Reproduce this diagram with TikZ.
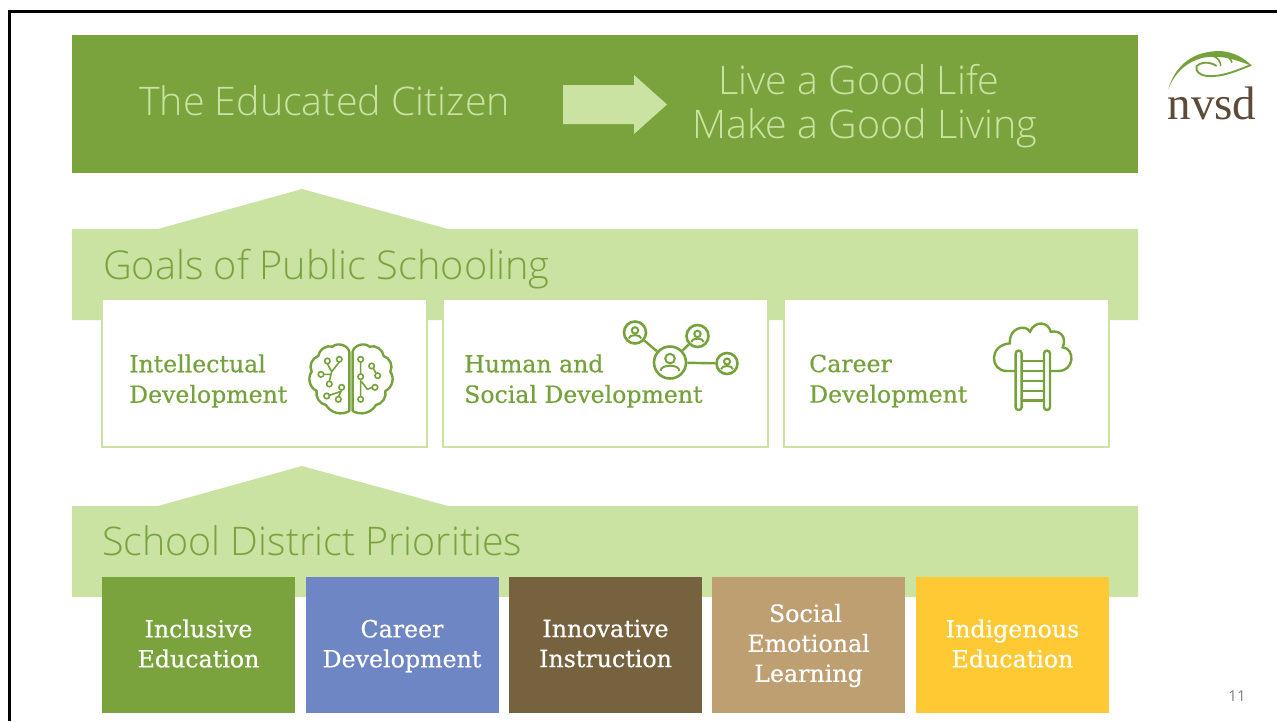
\documentclass[tikz,border=0pt]{standalone}
\usepackage{fontspec}
\setmainfont{Open Sans}
\newfontfamily\lightf{Open Sans Light}
\newfontfamily\slabf[RawFeature={embolden=0.5}]{DejaVu Serif}
\newfontfamily\logof{Liberation Serif}
\definecolor{dgreen}{HTML}{7AA33E}
\definecolor{lgreen}{HTML}{CAE3A2}
\definecolor{cblue}{HTML}{6E86C4}
\definecolor{cbrown}{HTML}{77623F}
\definecolor{ctan}{HTML}{BE9F72}
\definecolor{cyellow}{HTML}{FFC933}
\definecolor{logobrown}{HTML}{5E4A38}
\definecolor{icongreen}{HTML}{76A23C}
\tikzset{
  bigtxt/.style={font=\lightf\fontsize{39.4}{45}\selectfont,text=lgreen,align=center,inner sep=0pt},
  headtxt/.style={font=\lightf\fontsize{39.4}{45}\selectfont,text=dgreen,anchor=west,inner sep=0pt},
  whitebox/.style={draw=lgreen,line width=2pt,fill=white,minimum width=325pt,minimum height=148pt,inner sep=0pt},
  boxtxt/.style={font=\slabf\fontsize{23.6}{30.5}\selectfont,text=icongreen,align=left,anchor=west,inner sep=0pt},
  colbox/.style={minimum width=193pt,minimum height=136pt,inner sep=0pt,text=white,align=center},
  coltxt/.style={font=\slabf\fontsize{23.7}{30}\selectfont,text=white,align=center,inner sep=0pt},
  icon/.style={draw=icongreen,line width=2.4pt},
  pnode/.style={circle,draw=icongreen,line width=2.6pt,inner sep=0pt,fill=white},
  cnode/.style={circle,draw=icongreen,line width=1.6pt,inner sep=0pt,minimum size=5.5pt,fill=white},
  band/.style={fill=lgreen,draw=none}
}
\newcommand{\personicon}[3]{%
  \draw[icon,line width=2pt] (#1,#2-#3*0.26) circle[radius=#3*0.32];
  \draw[icon,line width=2pt] (#1-#3*0.62,#2+#3*0.55) .. controls (#1-#3*0.62,#2+#3*0.1) and (#1+#3*0.62,#2+#3*0.1) .. (#1+#3*0.62,#2+#3*0.55);
}
\begin{document}
\begin{tikzpicture}[x=1pt,y=-1pt]
\useasboundingbox (0,0) rectangle (1277,721);
\fill[white] (0,0) rectangle (1277,721);
% frame
\draw[black,line width=3pt] (9.5,721) -- (9.5,11) -- (1277,11);
% top band
\node[fill=dgreen,minimum width=1066pt,minimum height=138pt,inner sep=0pt,anchor=north west] (top) at (72,35) {};
\node[bigtxt] (citizen) at (324.5,101) {The Educated Citizen};
\fill[lgreen] (563,85) -- (634,85) -- (634,75) -- (667,104.5) -- (634,134) -- (634,124) -- (563,124) -- cycle;
\node[bigtxt,align=center] (live) at (865,106) {Live a Good Life\kern12pt\mbox{}\\[-0.5pt]Make a Good Living};
% goals band
\fill[band] (72,229) -- (158,229) -- (302,189) -- (448,229) -- (1138,229) -- (1138,320) -- (72,320) -- cycle;
\node[headtxt,font=\lightf\fontsize{39.7}{45}\selectfont] (goals) at (103,269) {Goals of Public Schooling};
\node[whitebox] (b1) at (264.5,373) {};
\node[whitebox] (b2) at (605.5,373) {};
\node[whitebox] (b3) at (946.5,373) {};
\node[boxtxt] (t1) at (129,381) {Intellectual\\Development};
\node[boxtxt] (t2) at (464,381) {Human and\\Social Development};
\node[boxtxt] (t3) at (809,381) {Career\\Development};
% priorities band
\fill[band] (72,506) -- (158,506) -- (302,466) -- (448,506) -- (1138,506) -- (1138,597) -- (72,597) -- cycle;
\node[headtxt] (prio) at (102,540.5) {School District Priorities};
\node[colbox,fill=dgreen] (c1) at (198.5,645) {};
\node[colbox,fill=cblue] (c2) at (402.5,645) {};
\node[colbox,fill=cbrown] (c3) at (605.5,645) {};
\node[colbox,fill=ctan] (c4) at (808.5,645) {};
\node[colbox,fill=cyellow] (c5) at (1012.5,645) {};
\node[coltxt] (c1t) at (198.5,643.5) {Inclusive\\Education};
\node[coltxt] (c2t) at (402,646) {Career\\Development};
\node[coltxt] (c3t) at (605.5,643.5) {Innovative\\Instruction};
\node[coltxt] (c4t) at (808.5,645.5) {Social\kern6pt\mbox{}\\Emotional\\Learning};
\node[coltxt] (c5t) at (1012.5,643.5) {Indigenous\\Education};
\node[text=gray,font=\fontsize{15}{18}\selectfont,inner sep=0pt] (pg) at (1237,696) {11};
% brain icon
\begin{scope}[shift={(290,310)},x=0.3333pt,y=-0.3333pt]
  \draw[icon,line join=round] (178,125) to[bend right=60] (128,110) to[bend right=50] (85,138) to[bend right=50] (65,185) to[bend right=50] (80,243) to[bend right=45] (108,285) to[bend right=45] (178,303) -- cycle;
  \draw[icon,line join=round] (188,125) to[bend left=60] (238,110) to[bend left=50] (281,138) to[bend left=50] (301,185) to[bend left=50] (286,243) to[bend left=45] (258,285) to[bend left=45] (188,303) -- cycle;
  \draw[icon,line width=1.6pt] (112,161) -- (125,185) -- (118,214) (148,156) -- (125,185) (101,193) -- (122,193) (155,240) -- (145,260) (118,256) -- (150,245);
  \draw[icon,line width=1.6pt] (212,156) -- (212,260) (215,215) -- (232,238) -- (247,232) (250,175) -- (258,190);
  \foreach \nn/\px/\py in {l1/112/153,l2/148/148,l3/93/193,l4/118/222,l5/155/232,l6/110/258,l7/145/268,r1/212/148,r2/245/168,r3/263/197,r4/212/200,r5/255/232,r6/212/268}
    \node[cnode] (\nn) at (\px,\py) {};
\end{scope}
% network icon
\node[pnode,minimum size=22pt] (n1) at (635,332.5) {};
\node[pnode,minimum size=22pt] (n2) at (697.5,336) {};
\node[pnode,minimum size=32pt] (n3) at (670,362.5) {};
\node[pnode,minimum size=21pt] (n4) at (727,363.5) {};
\draw[icon] (n1) -- (n3);
\draw[icon] (n2) -- (n3);
\draw[icon] (n3) -- (n4);
\personicon{635}{333}{10}
\personicon{697.5}{336.5}{10}
\personicon{670}{362.5}{15}
\personicon{727}{364}{9.5}
% cloud ladder icon
\begin{scope}[shift={(980,310)},x=0.3333pt,y=-0.3333pt]
  \draw[icon,line cap=round] (105,183) -- (80,183) .. controls (30,183) and (25,105) .. (90,100) .. controls (85,55) and (135,40) .. (150,65) .. controls (165,30) and (205,35) .. (212,65) .. controls (245,60) and (260,85) .. (248,112) .. controls (285,115) and (285,183) .. (235,183) -- (210,183);
  \foreach \ry in {153,183,213,243,272} \draw[icon] (125,\ry) -- (192,\ry);
  \draw[icon,rounded corners=2.8pt,fill=white] (107,122) rectangle (125,300);
  \draw[icon,rounded corners=2.8pt,fill=white] (192,122) rectangle (210,300);
\end{scope}
% logo
\begin{scope}[shift={(1150,40)},x=0.3333pt,y=-0.3333pt]
  \fill[icongreen] (55,148) .. controls (75,75) and (130,33) .. (210,33) .. controls (250,35) and (285,55) .. (305,77) .. controls (275,68) and (230,44) .. (165,52) .. controls (115,62) and (75,95) .. (55,148) -- cycle;
  \draw[icongreen,line width=1.9pt] (303,75) .. controls (260,92) and (215,112) .. (170,108) .. controls (150,105) and (135,95) .. (140,78) .. controls (150,68) and (175,62) .. (200,78);
  \draw[icongreen,line width=1.6pt] (190,48) .. controls (205,55) and (212,65) .. (212,78) (222,42) .. controls (235,50) and (243,57) .. (246,68);
\end{scope}
\node[font=\logof\fontsize{47}{50}\selectfont,text=logobrown,inner sep=0pt] (nvsd) at (1212,103) {nvsd};
\end{tikzpicture}
\end{document}
